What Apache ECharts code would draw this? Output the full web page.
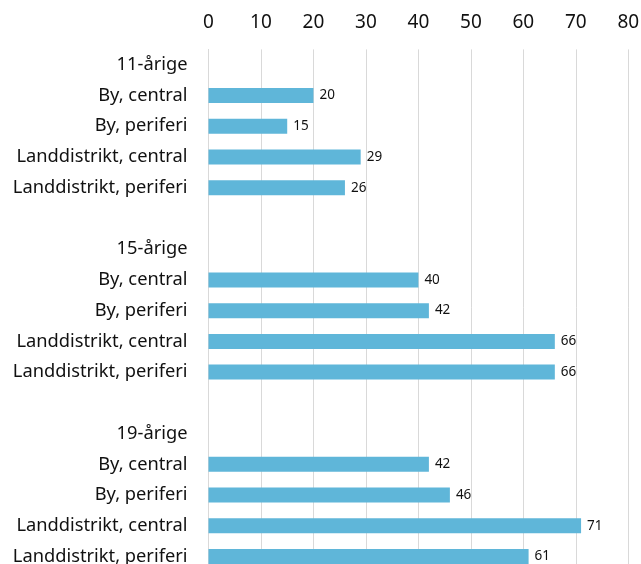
<!DOCTYPE html>
<html><head><meta charset="utf-8">
<script src="https://cdn.jsdelivr.net/npm/echarts@6/dist/echarts.min.js"></script>
<style>html,body{margin:0;padding:0;background:#fff}#c{width:641px;height:564px}</style>
</head><body><div id="c"></div>
<script>
var categories = ["11-årige","By, central","By, periferi","Landdistrikt, central","Landdistrikt, periferi","",
  "15-årige","By, central","By, periferi","Landdistrikt, central","Landdistrikt, periferi"," ",
  "19-årige","By, central","By, periferi","Landdistrikt, central","Landdistrikt, periferi"];
var values = [null,20,15,29,26,null,null,40,42,66,66,null,null,42,46,71,61];
var xTicks = [0,10,20,30,40,50,60,70,80];

var chart = echarts.init(document.getElementById('c'));
chart.setOption({
  animation:false,
  grid:{left:208.5,right:12.7,top:49.4,height:522.5,containLabel:false,outerBoundsMode:'none'},
  xAxis:{type:'value',position:'top',min:xTicks[0],max:xTicks[xTicks.length-1],interval:10,
    axisLine:{show:false},axisTick:{show:false},
    axisLabel:{fontFamily:'Noto Sans',fontSize:19,color:'#111111',margin:17},
    splitLine:{lineStyle:{color:'#d9d9d9',width:1}}},
  yAxis:{type:'category',inverse:true,data:categories,
    axisLine:{show:true,lineStyle:{color:'#d9d9d9'}},axisTick:{show:false},
    axisLabel:{fontFamily:'Noto Sans',fontSize:18.3,color:'#111111',margin:21,interval:0}},
  series:[{type:'bar',data:values,barWidth:15,itemStyle:{color:'#5fb6d9'},
    label:{show:true,position:'right',distance:6,fontFamily:'Noto Sans',fontSize:13.5,color:'#111111'}}]
});
</script></body></html>
